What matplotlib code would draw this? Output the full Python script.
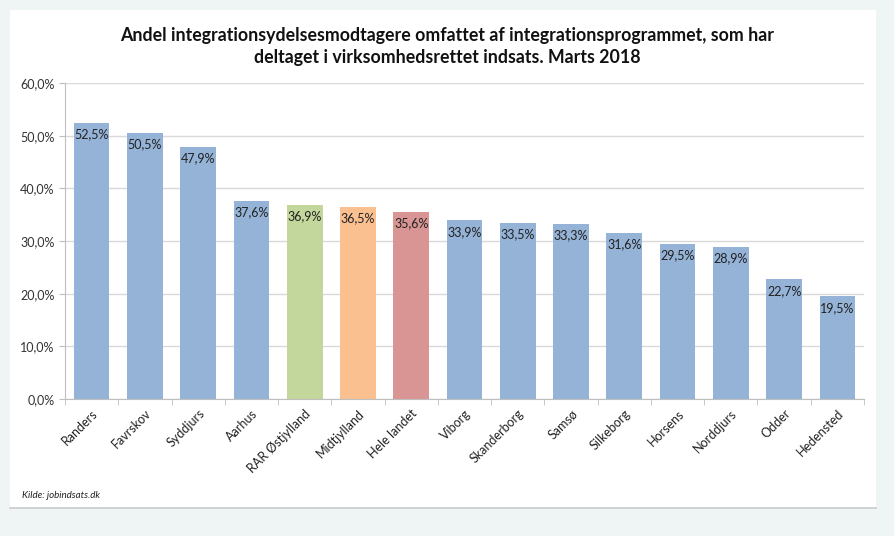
import matplotlib
matplotlib.use("Agg")
import matplotlib.pyplot as plt
from matplotlib.patches import Rectangle
from matplotlib.ticker import FixedLocator

categories = ["Randers", "Favrskov", "Syddjurs", "Aarhus", "RAR Østjylland", "Midtjylland",
              "Hele landet", "Viborg", "Skanderborg", "Samsø", "Silkeborg", "Horsens",
              "Norddjurs", "Odder", "Hedensted"]
values = [52.5, 50.5, 47.9, 37.6, 36.9, 36.5, 35.6, 33.9, 33.5, 33.3, 31.6, 29.5, 28.9, 22.7, 19.5]
colors = ["#95B3D7"] * 4 + ["#C3D69B", "#FAC090", "#D99594"] + ["#95B3D7"] * 8
yticks = [0, 10, 20, 30, 40, 50, 60]

plt.rcParams['font.family'] = ['Lato', 'DejaVu Sans']

fig = plt.figure(figsize=(8.94, 5.36), dpi=100)
fig.patch.set_facecolor("#EFF5F5")
bg = fig.add_axes([0, 0, 1, 1], zorder=-10)
bg.set_xlim(0, 894)
bg.set_ylim(536, 0)
bg.axis("off")
bg.add_patch(Rectangle((10, 10), 866, 498, facecolor="white", edgecolor="none"))
bg.plot([10, 876], [508, 508], color="#C8CCCC", lw=1.2)

ax = fig.add_axes([65/894, 1-399/536, (864-65)/894, (399-83)/536], zorder=1)
ax.set_facecolor("white")
x = list(range(len(categories)))
bars = ax.bar(x, values, width=0.67, color=colors, zorder=2)
for xi, v in zip(x, values):
    ax.annotate(f"{v:.1f}%".replace(".", ","), (xi, v), xytext=(0, -4), textcoords="offset points",
                ha="center", va="top", fontsize=9, color="#222222", zorder=3)

ax.set_xlim(-0.5, len(categories) - 0.5)
ax.set_ylim(0, 60)
ax.set_yticks(yticks)
ax.set_yticklabels([f"{t:.1f}%".replace(".", ",") for t in yticks], fontsize=9, color="#333333")
ax.yaxis.grid(True, color="#D9D9D9", lw=1, zorder=0)
ax.set_axisbelow(True)
ax.set_xticks(x)
ax.set_xticklabels(categories, rotation=45, ha="right", rotation_mode="anchor", fontsize=9, color="#222222")
ax.tick_params(axis="x", length=0, pad=6)
ax.xaxis.set_minor_locator(FixedLocator([i - 0.5 for i in range(len(categories) + 1)]))
ax.tick_params(axis="x", which="minor", length=4, color="#BFBFBF")
ax.tick_params(axis="y", length=4, color="#BFBFBF")
for s in ["top", "right"]:
    ax.spines[s].set_visible(False)
ax.spines["left"].set_color("#BFBFBF")
ax.spines["bottom"].set_color("#BFBFBF")

fig.text(0.5, 1-35/536, "Andel integrationsydelsesmodtagere omfattet af integrationsprogrammet, som har",
         ha="center", va="center", fontsize=12.8, fontweight="bold", color="#111111")
fig.text(0.5, 1-57/536, "deltaget i virksomhedsrettet indsats. Marts 2018",
         ha="center", va="center", fontsize=12.8, fontweight="bold", color="#111111")
fig.text(22/894, 1-495/536, "Kilde: jobindsats.dk", ha="left", va="center", fontsize=7,
         style="italic", color="#222222")

fig.savefig("out.png", dpi=100, facecolor=fig.get_facecolor())
